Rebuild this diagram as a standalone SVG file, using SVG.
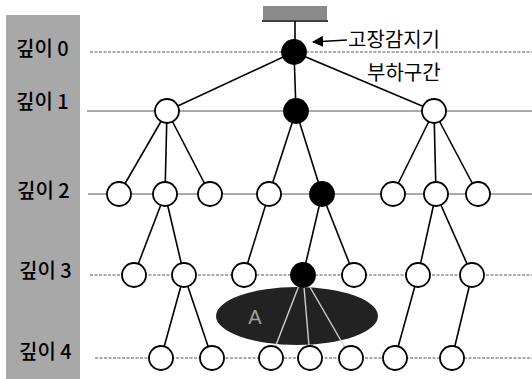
<svg xmlns="http://www.w3.org/2000/svg" width="532" height="379" viewBox="0 0 532 379">
<defs>
<style>
.lvl{stroke:#555;stroke-width:1;fill:none}
.dot{stroke-dasharray:3 1.5}
.e{stroke:#000;stroke-width:1.6;fill:none}
.ei{stroke:#d0d0d0;stroke-width:1.4;fill:none}
.n{fill:#fff;stroke:#000;stroke-width:1.8}
.f{fill:#000;stroke:#000;stroke-width:1.8}
.lab{font-family:"Noto Sans CJK KR","Noto Sans",sans-serif;font-size:20px;font-weight:500;fill:#000}
.ann{font-family:"Noto Sans CJK KR","Noto Sans",sans-serif;font-size:20px;fill:#000}
</style>
<marker id="ah" viewBox="0 0 10 10" refX="9" refY="5" markerWidth="7" markerHeight="7" orient="auto">
<path d="M0,0 L10,5 L0,10 z" fill="#000"/>
</marker>
</defs>

<g id="depth-band">
<rect x="6" y="15" width="74" height="364" fill="#a8a8a8"/>
<text class="lab" x="16" y="56">깊이 0</text>
<text class="lab" x="16" y="109">깊이 1</text>
<text class="lab" x="17" y="198">깊이 2</text>
<text class="lab" x="19" y="278">깊이 3</text>
<text class="lab" x="19" y="359">깊이 4</text>
</g>

<g id="level-lines">
<line class="lvl dot" x1="90" y1="52" x2="532" y2="52"/>
<line class="lvl" x1="87" y1="111" x2="532" y2="111"/>
<line class="lvl" x1="88" y1="194" x2="532" y2="194"/>
<line class="lvl dot" x1="90" y1="275" x2="532" y2="275"/>
<line class="lvl dot" x1="95" y1="358" x2="532" y2="358"/>
</g>

<g id="source">
<rect x="263" y="6" width="64" height="14" fill="#8a8a8a"/>
<line x1="262" y1="21" x2="328" y2="21" stroke="#000" stroke-width="1.5"/>
<line x1="295" y1="21" x2="295" y2="40" stroke="#000" stroke-width="1.6"/>
</g>

<g id="region-A">
<ellipse cx="297" cy="316" rx="81" ry="29" fill="#222"/>
<text x="255" y="324" font-family="Liberation Sans, sans-serif" font-size="20" fill="#a0a0a0" text-anchor="middle">A</text>
</g>

<g id="connectors">
<line class="e" x1="294" y1="52" x2="167" y2="111"/>
<line class="e" x1="294" y1="52" x2="296" y2="111"/>
<line class="e" x1="294" y1="52" x2="434" y2="111"/>
<line class="e" x1="167" y1="111" x2="119" y2="194"/>
<line class="e" x1="167" y1="111" x2="165" y2="194"/>
<line class="e" x1="167" y1="111" x2="210" y2="194"/>
<line class="e" x1="296" y1="111" x2="269" y2="194"/>
<line class="e" x1="296" y1="111" x2="322" y2="194"/>
<line class="e" x1="434" y1="111" x2="393" y2="194"/>
<line class="e" x1="434" y1="111" x2="436" y2="194"/>
<line class="e" x1="434" y1="111" x2="478" y2="194"/>
<line class="e" x1="165" y1="194" x2="134" y2="275"/>
<line class="e" x1="165" y1="194" x2="184" y2="275"/>
<line class="e" x1="269" y1="194" x2="244" y2="275"/>
<line class="e" x1="322" y1="194" x2="303" y2="275"/>
<line class="e" x1="322" y1="194" x2="354" y2="275"/>
<line class="e" x1="436" y1="194" x2="418" y2="275"/>
<line class="e" x1="436" y1="194" x2="472" y2="275"/>
<line class="e" x1="184" y1="275" x2="161" y2="358"/>
<line class="e" x1="184" y1="275" x2="212" y2="358"/>
<line class="ei" x1="303" y1="275" x2="271" y2="358"/>
<line class="ei" x1="303" y1="275" x2="310" y2="358"/>
<line class="ei" x1="303" y1="275" x2="351" y2="358"/>
<line class="e" x1="418" y1="275" x2="395" y2="358"/>
<line class="e" x1="472" y1="275" x2="452" y2="358"/>
<line x1="347" y1="40" x2="313" y2="42" stroke="#000" stroke-width="1.6" marker-end="url(#ah)"/>
</g>

<g id="nodes">
<g id="n0"><circle class="f" cx="294" cy="52" r="12"/></g>
<g id="n1a"><circle class="n" cx="167" cy="111" r="12"/></g>
<g id="n1b"><circle class="f" cx="296" cy="111" r="12"/></g>
<g id="n1c"><circle class="n" cx="434" cy="111" r="12"/></g>
<g id="n2a"><circle class="n" cx="119" cy="194" r="12"/></g>
<g id="n2b"><circle class="n" cx="165" cy="194" r="12"/></g>
<g id="n2c"><circle class="n" cx="210" cy="194" r="12"/></g>
<g id="n2d"><circle class="n" cx="269" cy="194" r="12"/></g>
<g id="n2e"><circle class="f" cx="322" cy="194" r="12"/></g>
<g id="n2f"><circle class="n" cx="393" cy="194" r="12"/></g>
<g id="n2g"><circle class="n" cx="436" cy="194" r="12"/></g>
<g id="n2h"><circle class="n" cx="478" cy="194" r="12"/></g>
<g id="n3a"><circle class="n" cx="134" cy="275" r="12"/></g>
<g id="n3b"><circle class="n" cx="184" cy="275" r="12"/></g>
<g id="n3c"><circle class="n" cx="244" cy="275" r="12"/></g>
<g id="n3d"><circle class="f" cx="303" cy="275" r="12"/></g>
<g id="n3e"><circle class="n" cx="354" cy="275" r="12"/></g>
<g id="n3f"><circle class="n" cx="418" cy="275" r="12"/></g>
<g id="n3g"><circle class="n" cx="472" cy="275" r="12"/></g>
<g id="n4a"><circle class="n" cx="161" cy="358" r="12"/></g>
<g id="n4b"><circle class="n" cx="212" cy="358" r="12"/></g>
<g id="n4c"><circle class="n" cx="271" cy="358" r="12"/></g>
<g id="n4d"><circle class="n" cx="310" cy="358" r="12"/></g>
<g id="n4e"><circle class="n" cx="351" cy="358" r="12"/></g>
<g id="n4f"><circle class="n" cx="395" cy="358" r="12"/></g>
<g id="n4g"><circle class="n" cx="452" cy="358" r="12"/></g>
</g>

<g id="annotations">
<text class="ann" x="348" y="47">고장감지기</text>
<text class="ann" x="367" y="80">부하구간</text>
</g>
</svg>
